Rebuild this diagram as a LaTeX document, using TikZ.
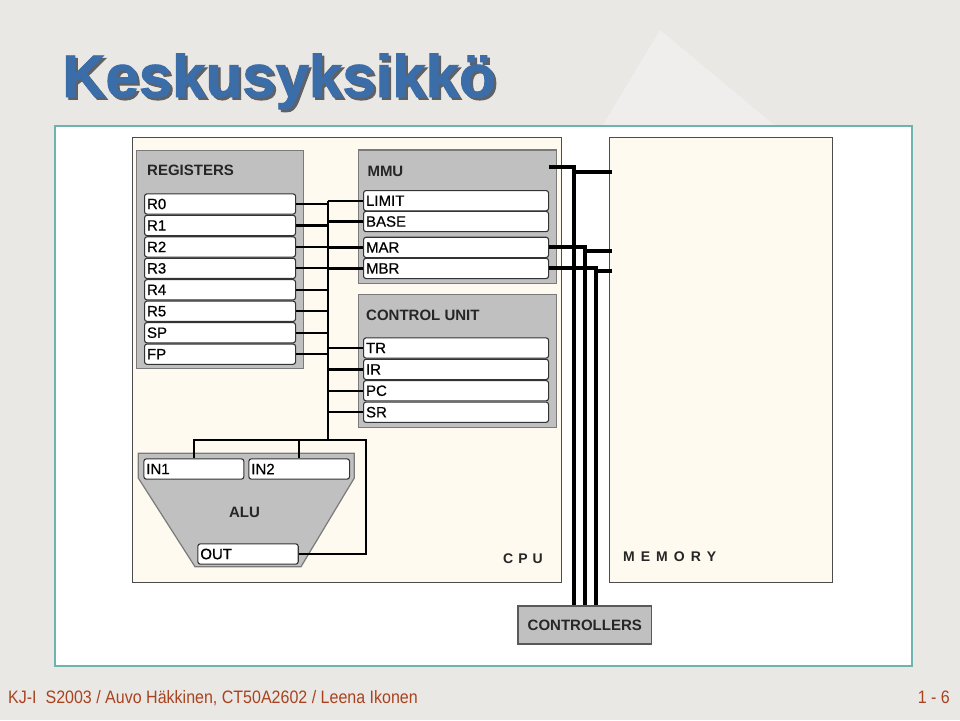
\documentclass[tikz,border=0pt]{standalone}
\usepackage{fontspec}
\setmainfont{Liberation Sans}
\newfontfamily\titlefont[FakeBold=1.5]{Liberation Sans Bold}
\newfontfamily\regfont[FakeBold=0.6]{Liberation Sans}
\usetikzlibrary{calc}
\definecolor{bg}{HTML}{EAE8E5}
\definecolor{panelborder}{HTML}{6FB3AE}
\definecolor{cream}{HTML}{FFFAF0}
\definecolor{boxgray}{HTML}{C0C0C0}
\definecolor{boxedge}{HTML}{7A7A7A}
\definecolor{titleblue}{HTML}{3B6DA9}
\definecolor{titleshadow}{HTML}{5E6166}
\definecolor{footred}{HTML}{A9431F}
\begin{document}
\begin{tikzpicture}[x=1pt,y=-1pt,
  panel/.style={draw=panelborder, line width=1.3pt, fill=white},
  unitbox/.style={draw=black!70, line width=0.9pt, fill=cream, anchor=north west, inner sep=0pt},
  graybox/.style={draw=boxedge, line width=1.2pt, fill=boxgray, anchor=north west, inner sep=0pt},
  reg/.style={draw=black!80, line width=1.1pt, fill=white, rounded corners=2.5pt, anchor=north west,
    minimum height=20.3pt, inner xsep=2.5pt, inner ysep=0pt, align=left,
    font=\regfont\fontsize{15}{15}\selectfont},
  hdr/.style={anchor=west, inner sep=0pt, font=\bfseries\fontsize{15}{15}\selectfont, text=black!85},
  unitlabel/.style={anchor=west, inner sep=0pt, font=\bfseries\fontsize{14}{14}\selectfont, text=black!85},
  wire/.style={line width=2.2pt, black},
  bus/.style={line width=4pt, black}]

% background and panel
\useasboundingbox (0,0) rectangle (960,720);
\fill[bg] (0,0) rectangle (960,720);
\fill[white, opacity=0.3] (600,130) -- (660,30) -- (780,130) -- cycle;
\draw[panel] (55,126) rectangle (912,666);

% title with its shadow
\node[anchor=base west, inner sep=0pt, font=\titlefont\fontsize{60}{60}\selectfont] (title) at (62,97)
  {\makebox[0pt][l]{\hspace{2.5pt}\raisebox{-2.5pt}{\color{titleshadow}Keskusyksikkö}}\color{titleblue}Keskusyksikkö};

% main units
\node[unitbox, minimum width=429.5pt, minimum height=445pt] (cpu) at (131.5,137) {};
\node[unitbox, minimum width=223pt, minimum height=445pt] (memory) at (609.3,137) {};
\node[unitlabel] (cpulabel) at (503,559) {C\hspace{5pt}P\hspace{5pt}U};
\node[unitlabel] (memlabel) at (623,557) {M\hspace{6pt}E\hspace{6pt}M\hspace{6pt}O\hspace{6pt}R\hspace{6pt}Y};

% registers
\node[graybox, minimum width=166.5pt, minimum height=218pt] (regs) at (136,150) {};
\node[hdr] (regslabel) at (147,170) {REGISTERS};
\foreach \n/\lab/\y in {r0/R0/193.3, r1/R1/214.75, r2/R2/236.2, r3/R3/257.65,
                        r4/R4/279.1, r5/R5/300.55, sp/SP/322.0, fp/FP/343.45}
  \node[reg, text width=146pt] (\n) at (144,\y) {\lab};

% MMU
\node[graybox, minimum width=197.7pt, minimum height=133.4pt] (mmu) at (358,149.3) {};
\node[hdr] (mmulabel) at (367.3,171) {MMU};
\foreach \n/\lab/\y in {limit/LIMIT/190, base/BASE/210.8, mar/MAR/236.7, mbr/MBR/257.7}
  \node[reg, text width=180pt] (\n) at (363,\y) {\lab};

% control unit
\node[graybox, minimum width=197.7pt, minimum height=133pt] (cu) at (358,294) {};
\node[hdr] (culabel) at (366,315.3) {CONTROL UNIT};
\foreach \n/\lab/\y in {tr/TR/337.3, ir/IR/358.7, pc/PC/380.0, sr/SR/401.5}
  \node[reg, text width=180pt] (\n) at (363,\y) {\lab};

% ALU
\draw[draw=boxedge, line width=1.2pt, fill=boxgray]
  (138.3,453.3) -- (354.3,453.3) -- (354.3,478) -- (301,566.7) -- (195,566.7) -- (138.3,478) -- cycle;
\node[reg, text width=95pt] (in1) at (143.3,458.3) {IN1};
\node[reg, text width=95.7pt] (in2) at (248.3,458.3) {IN2};
\node[reg, text width=95.4pt] (out) at (197.3,543.3) {OUT};
\node[inner sep=0pt, font=\bfseries\fontsize{15}{15}\selectfont, text=black!85] (alulabel) at (244.5,512) {ALU};

% controllers
\node[graybox, draw=black!65, minimum width=133.7pt, minimum height=38pt] (ctrl) at (517.3,605.3) {};
\node[inner sep=0pt, font=\bfseries\fontsize{15}{15}\selectfont, text=black!85] (ctrllabel) at (ctrl.center) {CONTROLLERS};

% internal bus
\coordinate (busx) at (328,0);
\coordinate (alujoin) at (366,440);
\foreach \n in {r0,r1,r2,r3,r4,r5,sp,fp}
  \draw[wire] (\n.east) -- (\n.east -| busx);
\foreach \n in {limit,base,mar,mbr,tr,ir,pc,sr}
  \draw[wire] (busx |- \n.west) -- (\n.west);
\draw[wire] (busx |- limit.west) -- (busx |- alujoin);
\draw[wire] (in1.north) |- (alujoin) |- (out.east);
\draw[wire] (in2.north) -- (in2.north |- alujoin);

% system bus
\coordinate (b1) at (573.5,0);
\coordinate (b2) at (585,0);
\coordinate (b3) at (595.7,0);
\coordinate (ym) at (0,172.3);
\coordinate (ya) at (0,251);
\coordinate (yb) at (0,271);
\draw[bus] ($(mmu.north east)+(-7.7,18)$) -| (b1 |- ctrl.north);
\draw[bus] (b1 |- ym) -- ($(memory.west |- ym)+(2.4,0)$);
\draw[bus] (mar.east) -| (b2 |- ctrl.north);
\draw[bus] (b2 |- ya) -- ($(memory.west |- ya)+(2.4,0)$);
\draw[bus] (mbr.east) -| (b3 |- ctrl.north);
\draw[bus] (b3 |- yb) -- ($(memory.west |- yb)+(2.4,0)$);

% footer
\node[anchor=base west, inner sep=0pt, text=footred, font=\fontsize{18}{18}\selectfont] (footer) at (8,703)
  {\scalebox{0.89}[1]{KJ-I\ \ S2003 / Auvo Häkkinen, CT50A2602 / Leena Ikonen}};
\node[anchor=base east, inner sep=0pt, text=footred, font=\fontsize{18}{18}\selectfont] (pagenum) at (950,703)
  {\scalebox{0.89}[1]{1 - 6}};
\end{tikzpicture}
\end{document}
